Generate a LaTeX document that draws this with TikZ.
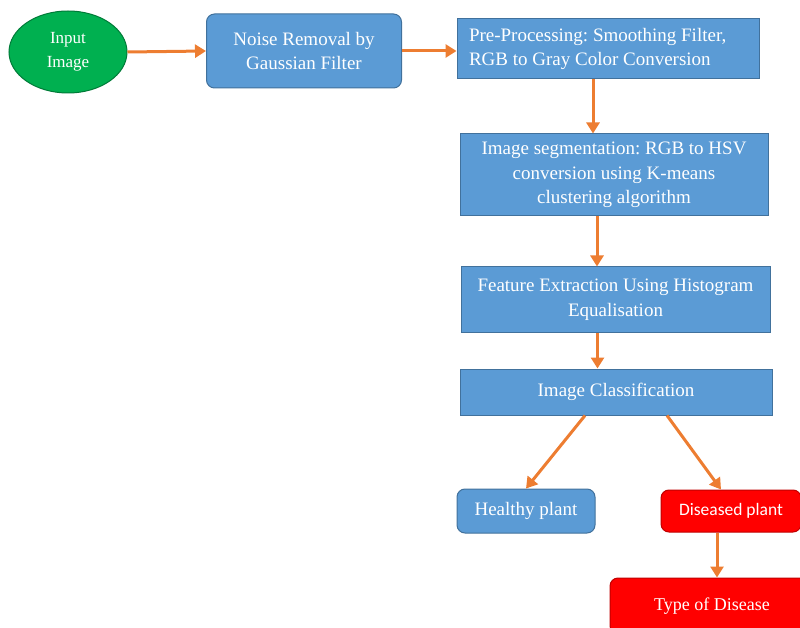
\documentclass[tikz,border=0pt]{standalone}
\usepackage{fontspec}
\setmainfont{Liberation Serif}
\newfontfamily\calibrifont{Carlito}
\usetikzlibrary{arrows.meta,shapes.geometric}
\definecolor{blockblue}{HTML}{5B9BD5}
\definecolor{blockedge}{HTML}{41719C}
\definecolor{startgreen}{HTML}{00B050}
\definecolor{diseasered}{HTML}{FF0000}
\definecolor{rededge}{HTML}{C00000}
\definecolor{floworange}{HTML}{ED7D31}
\frenchspacing
\begin{document}
\begin{tikzpicture}[x=1pt,y=-1pt,
    blockbox/.style={draw=blockedge, fill=blockblue, text=white, line width=1pt,
      align=center, inner sep=0pt, font=\fontsize{19}{24.5}\selectfont},
    roundbox/.style={blockbox, rounded corners=8pt},
    redbox/.style={roundbox, draw=rededge, fill=diseasered},
    flow/.style={draw=floworange, line width=3pt, -{Triangle[length=11pt,width=13pt]}}]
  \useasboundingbox (0,0) rectangle (800,628);
  % nodes
  \node[ellipse, draw=startgreen!70!black, fill=startgreen, text=white, line width=1pt,
    align=center, inner sep=0pt, minimum width=118pt, minimum height=82pt,
    font=\fontsize{17}{24}\selectfont] (input) at (68,52) {Input\\Image};
  \node[roundbox, minimum width=195pt, minimum height=74pt] (noise) at (304,51)
    {Noise Removal by\\Gaussian Filter};
  \node[blockbox, minimum width=302pt, minimum height=60pt, text width=278pt, align=flush left]
    (pre) at (608,49) {Pre-Processing: Smoothing Filter,\\RGB to Gray Color Conversion};
  \node[blockbox, minimum width=308pt, minimum height=82pt] (seg) at (614,175)
    {Image segmentation: RGB to HSV\\conversion using K-means\\clustering algorithm};
  \node[blockbox, minimum width=309pt, minimum height=65pt] (feat) at (615.5,299.5)
    {Feature Extraction Using Histogram\\Equalisation};
  \node[blockbox, minimum width=312pt, minimum height=46pt] (cls) at (616,392)
    {Image Classification};
  \node[roundbox, minimum width=138pt, minimum height=44pt] (healthy) at (526,511)
    {Healthy plant};
  \node[redbox, minimum width=140pt, minimum height=42pt,
    font=\calibrifont\fontsize{17.5}{24}\selectfont] (diseased) at (731,511) {Diseased plant};
  \node[redbox, minimum width=204pt, minimum height=56pt,
    font=\fontsize{18}{24}\selectfont] (type) at (712,606) {Type of Disease};
  % connectors
  \draw[flow] (input.east) -- (noise.west);
  \draw[flow] (noise.east) -- (pre.west |- noise.east);
  \draw[flow] ([xshift=-15pt]pre.south) -- ([xshift=-15pt]pre.south |- seg.north);
  \draw[flow] ([xshift=-17pt]seg.south) -- ([xshift=-17pt]seg.south |- feat.north);
  \draw[flow] ([xshift=-18pt]feat.south) -- ([xshift=-18pt]feat.south |- cls.north);
  \draw[flow] ([xshift=-31pt]cls.south) -- (healthy.north);
  \draw[flow] ([xshift=51pt]cls.south) -- ([xshift=-10pt]diseased.north);
  \draw[flow] ([xshift=-14pt]diseased.south) -- ([xshift=-14pt]diseased.south |- type.north);
\end{tikzpicture}
\end{document}
